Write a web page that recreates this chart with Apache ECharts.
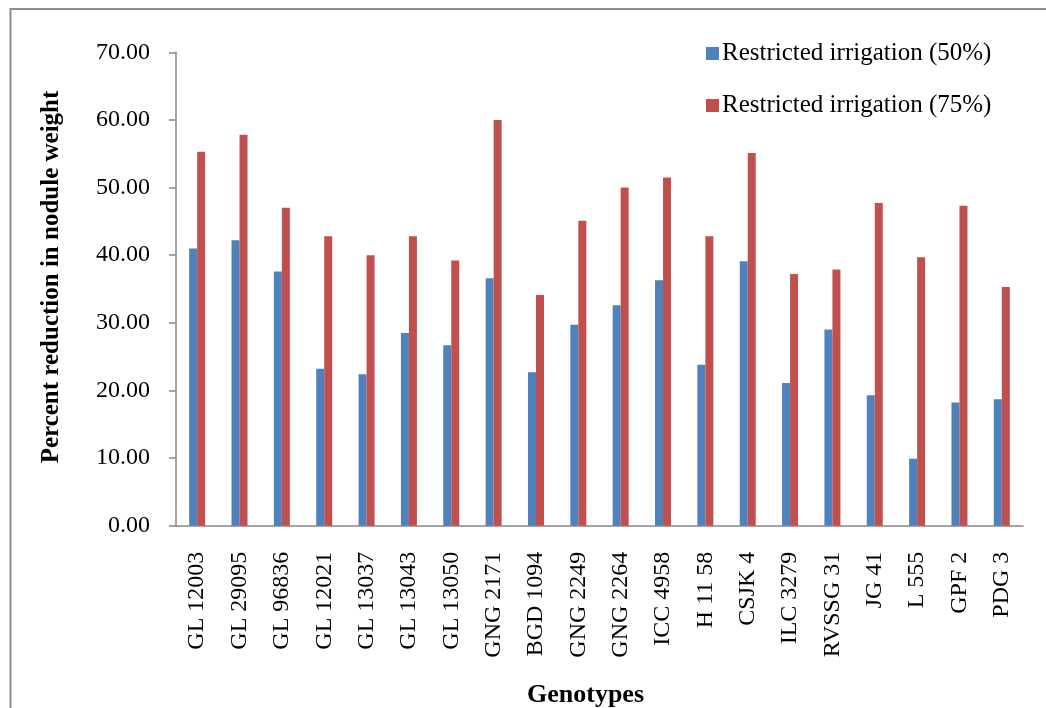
<!DOCTYPE html>
<html>
<head>
<meta charset="utf-8">
<script src="https://cdn.jsdelivr.net/npm/echarts@6/dist/echarts.min.js"></script>
<style>
  html, body { margin: 0; padding: 0; background: #ffffff; }
  #chart { width: 1046px; height: 708px; }
</style>
</head>
<body>
<div id="chart"></div>
<script>
// Genotypes on the category axis
var genotypes = ['GL 12003', 'GL 29095', 'GL 96836', 'GL 12021', 'GL 13037', 'GL 13043',
  'GL 13050', 'GNG 2171', 'BGD 1094', 'GNG 2249', 'GNG 2264', 'ICC 4958', 'H 11 58',
  'CSJK 4', 'ILC 3279', 'RVSSG 31', 'JG 41', 'L 555', 'GPF 2', 'PDG 3'];

// Percent reduction in nodule weight under each irrigation treatment
var irrigation50 = [41.0, 42.2, 37.6, 23.2, 22.4, 28.5, 26.7, 36.6, 22.7, 29.7,
  32.6, 36.3, 23.8, 39.1, 21.1, 29.0, 19.3, 9.9, 18.2, 18.7];
var irrigation75 = [55.3, 57.8, 47.0, 42.8, 40.0, 42.8, 39.2, 60.0, 34.1, 45.1,
  50.0, 51.5, 42.8, 55.1, 37.2, 37.9, 47.7, 39.7, 47.3, 35.3];

var seriesNames = ['Restricted irrigation (50%)', 'Restricted irrigation (75%)'];

var serif = '"Liberation Serif", "DejaVu Serif", serif';
var axisGrey = '#878787';

var chart = echarts.init(document.getElementById('chart'), null, { renderer: 'canvas' });

chart.setOption({
  animation: false,
  backgroundColor: '#ffffff',
  textStyle: { fontFamily: serif, color: '#000000' },
  graphic: [{
    type: 'rect',
    shape: { x: 10.5, y: 9, width: 1100, height: 800 },
    style: { fill: 'none', stroke: '#8c8c8c', lineWidth: 2 },
    silent: true
  }],
  legend: {
    orient: 'vertical',
    left: 706,
    top: 41,
    padding: 0,
    itemWidth: 13,
    itemHeight: 13,
    itemGap: 27,
    icon: 'rect',
    data: seriesNames,
    textStyle: { fontFamily: serif, fontSize: 25, color: '#000000', lineHeight: 24, padding: [0, 0, 0, -2] }
  },
  grid: {
    left: 176,
    top: 52.3,
    right: 23,
    bottom: 182.3,
    containLabel: false,
    outerBoundsMode: 'none'
  },
  xAxis: {
    type: 'category',
    data: genotypes,
    name: 'Genotypes',
    nameLocation: 'middle',
    nameGap: 157,
    nameTextStyle: {
      fontFamily: serif, fontSize: 26, fontWeight: 'bold', color: '#000000',
      padding: [0, 28, 0, 0]
    },
    axisLine: { show: true, lineStyle: { color: axisGrey, width: 1.5 } },
    axisTick: { show: false },
    axisLabel: {
      interval: 0,
      rotate: 90,
      margin: 26,
      fontFamily: serif,
      fontSize: 24,
      color: '#000000'
    },
    splitLine: { show: false }
  },
  yAxis: {
    type: 'value',
    min: 0,
    max: 70,
    interval: 10,
    name: 'Percent reduction in nodule weight',
    nameLocation: 'middle',
    nameGap: 112,
    nameTextStyle: {
      fontFamily: serif, fontSize: 25, fontWeight: 'bold', color: '#000000',
      padding: [0, 0, 0, 24]
    },
    axisLine: { show: true, lineStyle: { color: axisGrey, width: 1.5 } },
    axisTick: { show: true, inside: false, length: 7, lineStyle: { color: axisGrey, width: 1.5 } },
    axisLabel: {
      margin: 26,
      fontFamily: serif,
      fontSize: 24,
      color: '#000000',
      formatter: function (v) { return v.toFixed(2); }
    },
    splitLine: { show: false }
  },
  series: [
    {
      name: seriesNames[0],
      type: 'bar',
      data: irrigation50,
      barWidth: 8,
      barGap: '0%',
      itemStyle: { color: '#4F81BD' }
    },
    {
      name: seriesNames[1],
      type: 'bar',
      data: irrigation75,
      barWidth: 8,
      barGap: '0%',
      itemStyle: { color: '#C0504D' }
    }
  ]
});
</script>
</body>
</html>
